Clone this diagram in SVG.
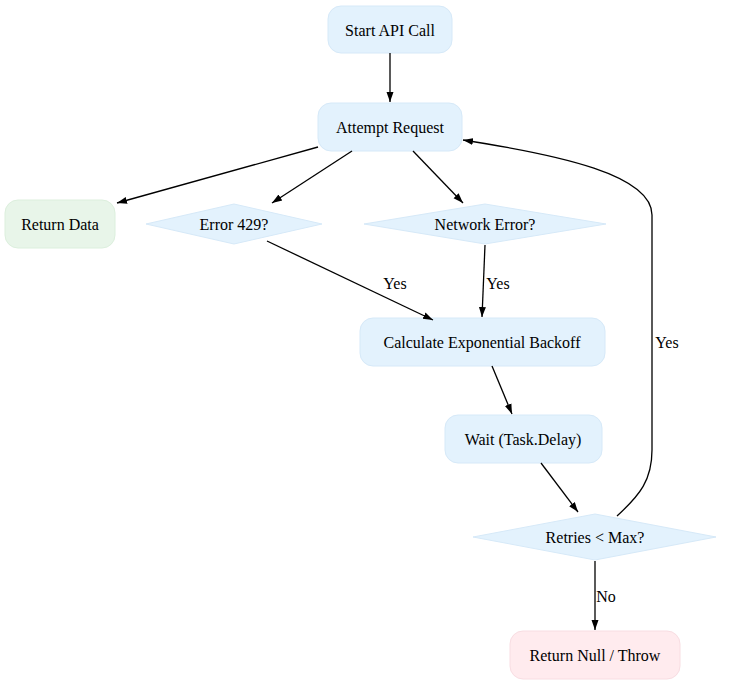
<svg xmlns="http://www.w3.org/2000/svg" width="731" height="684" viewBox="0 0 731 684">
<style>
text{font-family:"Liberation Serif","Times New Roman",serif;font-size:16px;fill:#000;text-anchor:middle;dominant-baseline:central}
.n{fill:#E3F2FD;stroke:#D6E9F8;stroke-width:1}
.g{fill:#E8F5E9;stroke:#DCEFDD}
.r{fill:#FFEBEE;stroke:#F8DDE2}
.e{fill:none;stroke:#000;stroke-width:1.3}
</style>
<defs><marker id="a" viewBox="0 0 10 10" refX="10" refY="5" markerWidth="10" markerHeight="10" markerUnits="userSpaceOnUse" orient="auto"><path d="M0,1.5L10,5L0,8.5z" fill="#000"/></marker></defs>
<rect width="731" height="684" fill="#fff"/>
<g id="start"><rect class="n" x="328" y="6" width="124" height="47" rx="13"/><text x="390" y="30">Start API Call</text></g>
<g id="attempt"><rect class="n" x="318" y="103" width="144" height="48" rx="13"/><text x="390" y="127">Attempt Request</text></g>
<g id="ret"><rect class="n g" x="5" y="200" width="110" height="48" rx="13"/><text x="60" y="224">Return Data</text></g>
<g id="e429"><polygon class="n" points="146,224 234,204 322,224 234,244"/><text x="234" y="224">Error 429?</text></g>
<g id="net"><polygon class="n" points="364,224 485,204 606,224 485,244"/><text x="485" y="224">Network Error?</text></g>
<g id="calc"><rect class="n" x="360" y="318" width="245" height="48" rx="13"/><text x="482" y="342">Calculate Exponential Backoff</text></g>
<g id="wait"><rect class="n" x="445" y="415" width="157" height="48" rx="13"/><text x="523" y="439">Wait (Task.Delay)</text></g>
<g id="retries"><polygon class="n" points="473,537 595,514 716,537 595,560"/><text x="595" y="537">Retries &lt; Max?</text></g>
<g id="fail"><rect class="n r" x="510" y="631" width="170" height="48" rx="13"/><text x="595" y="655">Return Null / Throw</text></g>
<g id="edges">
<path class="e" marker-end="url(#a)" d="M390,53L390,102"/>
<path class="e" marker-end="url(#a)" d="M318,147L117,203"/>
<path class="e" marker-end="url(#a)" d="M352,151L272,203"/>
<path class="e" marker-end="url(#a)" d="M413,151L463,203"/>
<path class="e" marker-end="url(#a)" d="M267,241L433,320"/>
<path class="e" marker-end="url(#a)" d="M485,245L482,317"/>
<path class="e" marker-end="url(#a)" d="M492,366L512,414"/>
<path class="e" marker-end="url(#a)" d="M541,463L578,512"/>
<path class="e" marker-end="url(#a)" d="M617,516C640,495 652,480 652,450L652,215C652,175 560,155 463,140"/>
<path class="e" marker-end="url(#a)" d="M595,561L595,630"/>
<text x="395" y="283">Yes</text>
<text x="498" y="283">Yes</text>
<text x="667" y="342">Yes</text>
<text x="606" y="596">No</text>
</g>
</svg>
